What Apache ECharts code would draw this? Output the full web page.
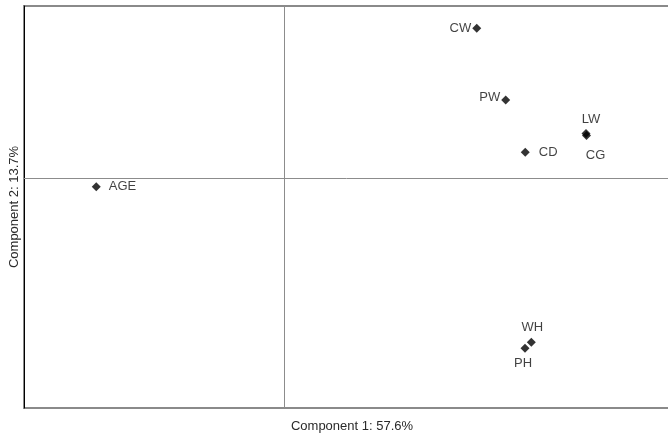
<!DOCTYPE html>
<html>
<head>
<meta charset="utf-8">
<script src="https://cdn.jsdelivr.net/npm/echarts@6/dist/echarts.min.js"></script>
<style>html,body{margin:0;padding:0;background:#fff}#c{width:668px;height:436px}</style>
</head>
<body>
<div id="c"></div>
<script>
var variables = ['AGE', 'CW', 'PW', 'LW', 'CG', 'CD', 'WH', 'PH'];
var component1 = [-0.2888, 0.2965, 0.3411, 0.4646, 0.4654, 0.3712, 0.3805, 0.3708];
var component2 = [-0.0146, 0.2612, 0.1363, 0.0780, 0.0745, 0.0453, -0.2856, -0.2960];
var xTitle = 'Component 1: 57.6%';
var yTitle = 'Component 2: 13.7%';

// label placement (style only)
var labelStyle = {
  AGE: {position: 'right', distance: 8},
  CW: {position: 'left', distance: 1, offset: [0, 0]},
  PW: {position: 'left', distance: 1, offset: [0, -3]},
  LW: {position: 'top', distance: 3, offset: [5, 0]},
  CG: {position: 'bottom', distance: 9, offset: [9, 0]},
  CD: {position: 'right', distance: 9},
  WH: {position: 'top', distance: 4, offset: [1, 0]},
  PH: {position: 'bottom', distance: 4, offset: [-2, 0]}
};

var data = variables.map(function (n, i) {
  var ls = labelStyle[n];
  return {
    name: n,
    value: [component1[i], component2[i]],
    label: Object.assign({show: true, formatter: n}, ls)
  };
});

var FONT = '13px "Liberation Sans", Arial, sans-serif';
var chart = echarts.init(document.getElementById('c'), null, {renderer: 'canvas'});
chart.setOption({
  animation: false,
  grid: {left: 24, width: 650, top: 6, height: 402, outerBoundsMode: 'none', containLabel: false,
    show: true, borderColor: '#8a8a8a', borderWidth: 2, backgroundColor: '#fff'},
  xAxis: {
    type: 'value', min: -0.4, max: 0.6,
    axisLine: {show: false}, axisTick: {show: false}, axisLabel: {show: false}, splitLine: {show: false}
  },
  yAxis: {
    type: 'value', min: -0.4, max: 0.3,
    axisLine: {show: true, onZero: false, lineStyle: {color: '#000', width: 1}},
    axisTick: {show: false}, axisLabel: {show: false}, splitLine: {show: false}
  },
  graphic: [
    {type: 'text', x: 352, y: 426, style: {text: xTitle, fill: '#2a2a2a', font: FONT, align: 'center', verticalAlign: 'middle'}},
    {type: 'text', x: 14, y: 207, rotation: Math.PI / 2,
      style: {text: yTitle, fill: '#2a2a2a', font: FONT, align: 'center', verticalAlign: 'middle'}}
  ],
  series: [{
    type: 'scatter',
    symbol: 'diamond',
    symbolSize: [9, 9],
    itemStyle: {color: '#000'},
    label: {color: '#111', fontSize: 13, fontFamily: '"Liberation Sans", Arial, sans-serif'},
    data: data,
    markLine: {
      silent: true, symbol: 'none', label: {show: false},
      lineStyle: {color: '#8c8c8c', width: 1, type: 'solid'},
      data: [{xAxis: 0}, {yAxis: 0}]
    }
  }]
});
</script>
</body>
</html>
